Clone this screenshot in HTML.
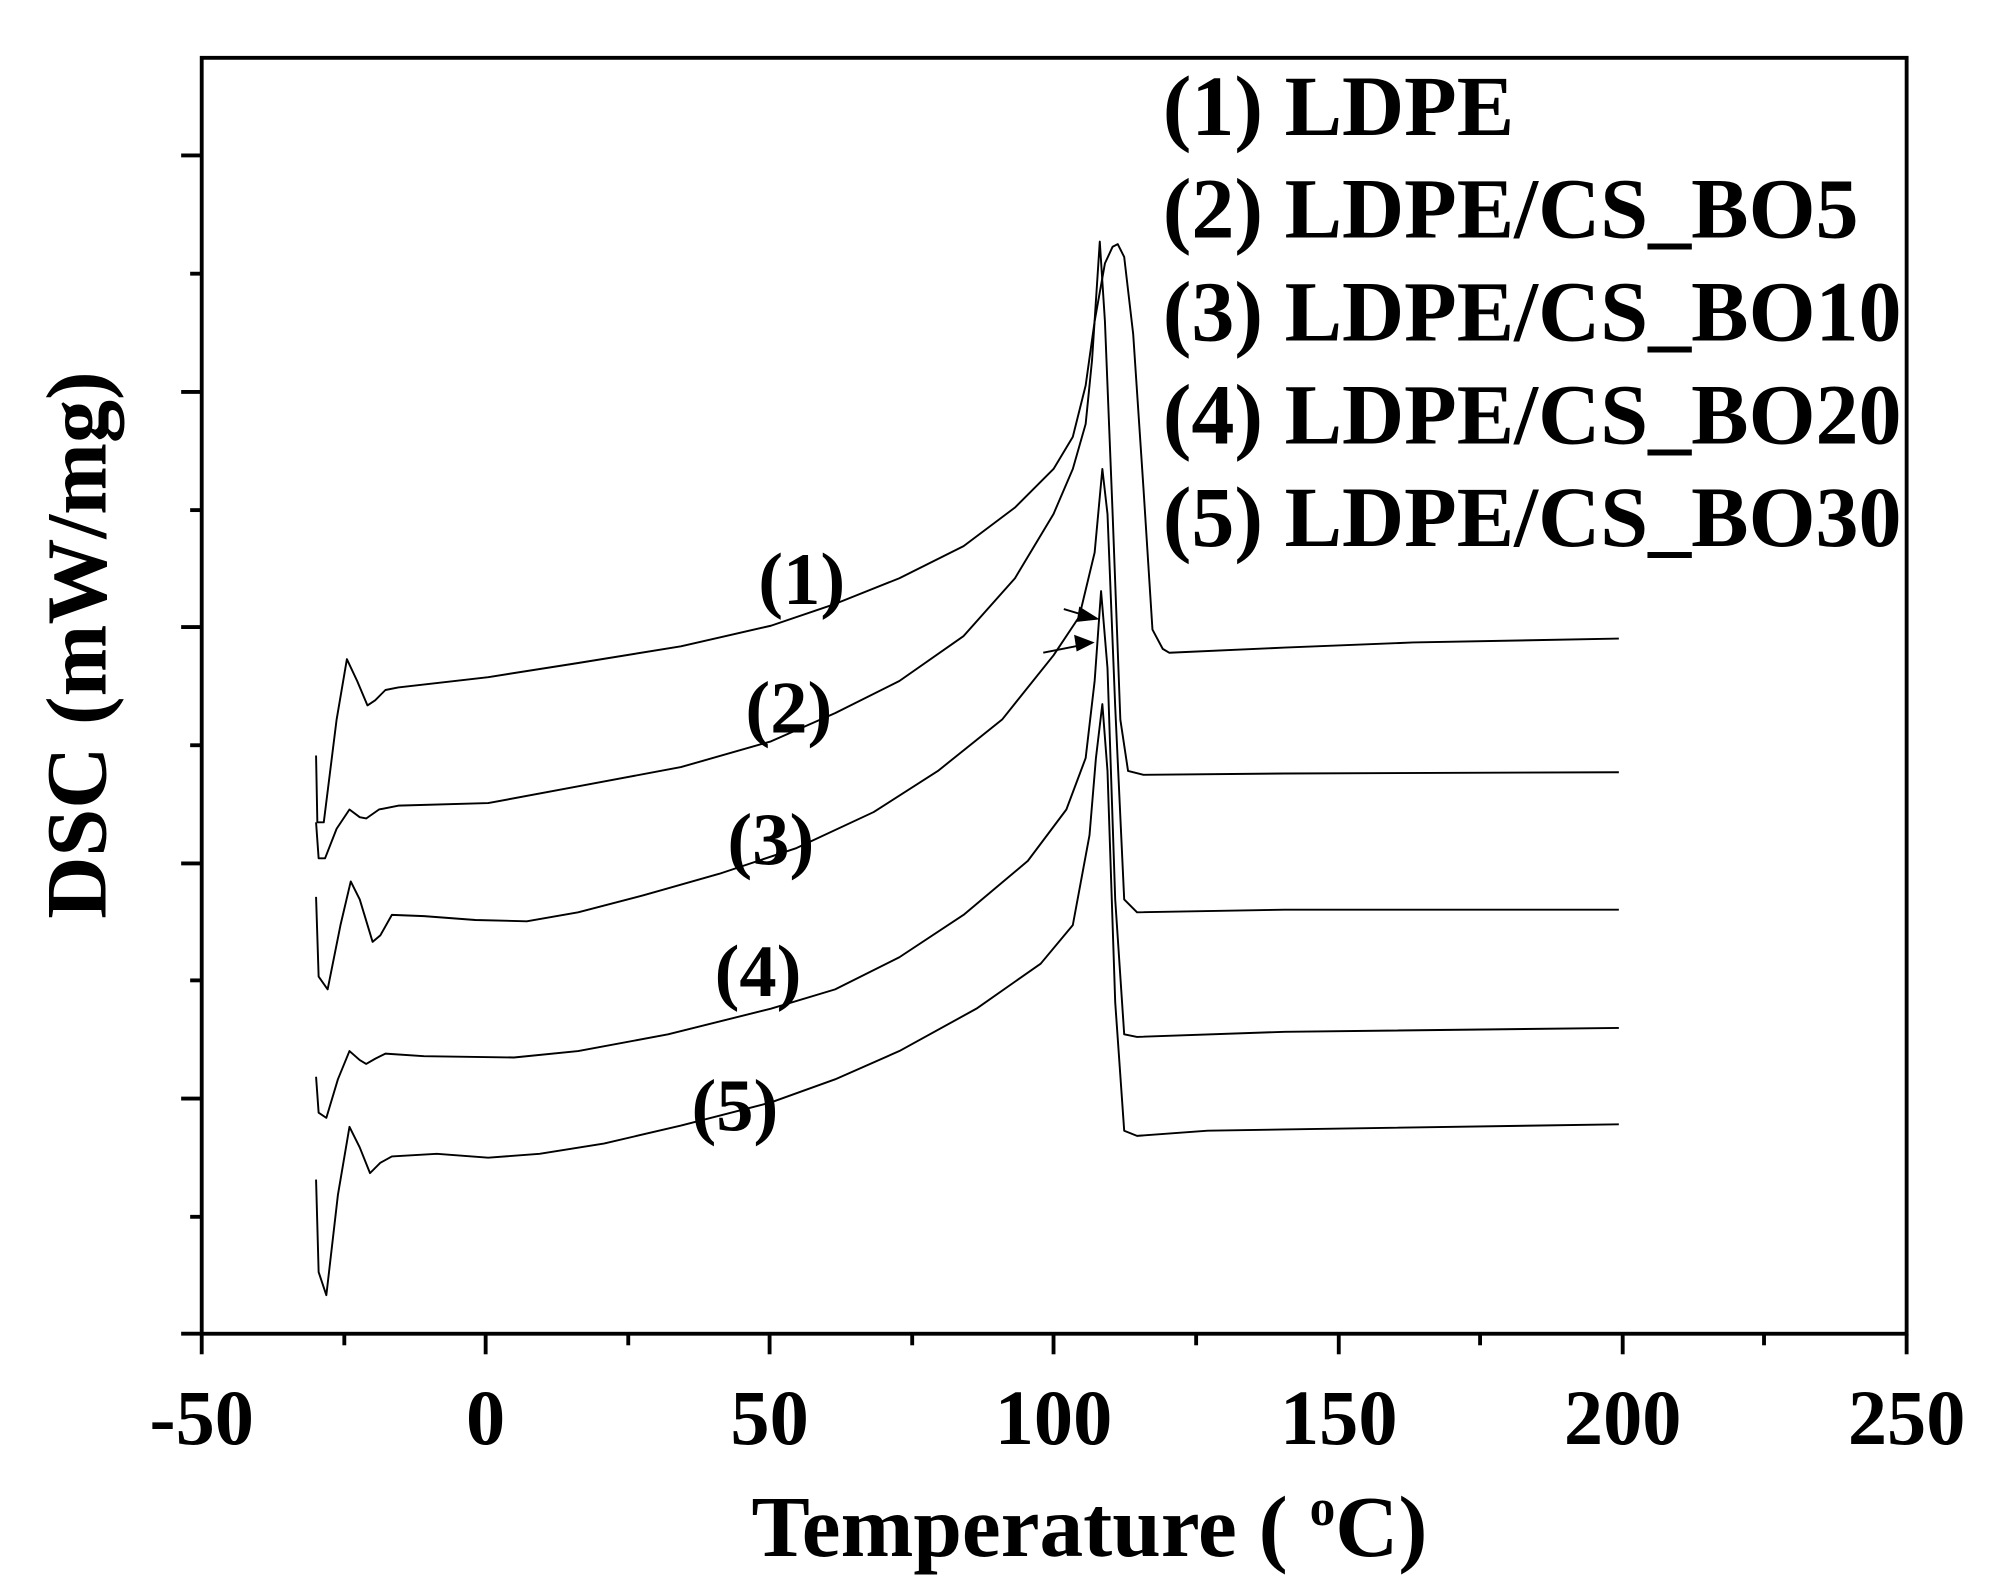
<!DOCTYPE html>
<html><head><meta charset="utf-8"><style>
html,body{margin:0;padding:0;background:#fff;}
svg{display:block;}
text{font-family:"Liberation Serif",serif;font-weight:bold;fill:#000;}
</style></head><body>
<svg width="1994" height="1592" viewBox="0 0 1552 1239" preserveAspectRatio="none" xmlns="http://www.w3.org/2000/svg">
<rect x="157" y="45" width="1327" height="993" fill="none" stroke="#000" stroke-width="3"/>
<g stroke="#000" stroke-width="3">
<line x1="141" y1="1038" x2="157" y2="1038"/>
<line x1="157" y1="1038" x2="157" y2="1054"/><line x1="378" y1="1038" x2="378" y2="1054"/><line x1="599" y1="1038" x2="599" y2="1054"/><line x1="820" y1="1038" x2="820" y2="1054"/><line x1="1042" y1="1038" x2="1042" y2="1054"/><line x1="1263" y1="1038" x2="1263" y2="1054"/><line x1="1484" y1="1038" x2="1484" y2="1054"/>
<line x1="268" y1="1038" x2="268" y2="1047"/><line x1="489" y1="1038" x2="489" y2="1047"/><line x1="710" y1="1038" x2="710" y2="1047"/><line x1="931" y1="1038" x2="931" y2="1047"/><line x1="1152" y1="1038" x2="1152" y2="1047"/><line x1="1373" y1="1038" x2="1373" y2="1047"/>
<line x1="141" y1="121" x2="157" y2="121"/><line x1="141" y1="305" x2="157" y2="305"/><line x1="141" y1="488" x2="157" y2="488"/><line x1="141" y1="672" x2="157" y2="672"/><line x1="141" y1="855" x2="157" y2="855"/>
<line x1="148" y1="213" x2="157" y2="213"/><line x1="148" y1="397" x2="157" y2="397"/><line x1="148" y1="580" x2="157" y2="580"/><line x1="148" y1="763" x2="157" y2="763"/><line x1="148" y1="947" x2="157" y2="947"/>
</g>
<g font-size="61" text-anchor="middle">
<text x="157" y="1124">-50</text><text x="378" y="1124">0</text><text x="599" y="1124">50</text><text x="820" y="1124">100</text><text x="1042" y="1124">150</text><text x="1263" y="1124">200</text><text x="1484" y="1124">250</text>
</g>
<text x="848" y="1211" font-size="68" text-anchor="middle">Temperature ( <tspan font-size="40" dy="-24">o</tspan><tspan dy="24">C)</tspan></text>
<text transform="translate(82,502) rotate(-90)" font-size="67" text-anchor="middle">DSC (mW/mg)</text>
<g font-size="67">
<text x="905" y="105">(1) LDPE</text>
<text x="905" y="185">(2) LDPE/CS_BO5</text>
<text x="905" y="265">(3) LDPE/CS_BO10</text>
<text x="905" y="345">(4) LDPE/CS_BO20</text>
<text x="905" y="425">(5) LDPE/CS_BO30</text>
</g>
<g font-size="58" text-anchor="middle">
<text x="624" y="470">(1)</text><text x="614" y="570">(2)</text><text x="600" y="673">(3)</text><text x="590" y="775">(4)</text><text x="572" y="880">(5)</text>
</g>
<g fill="none" stroke="#000" stroke-width="1.5" stroke-linejoin="round">
<polyline points="246,588 247,640 252,640 262,560 270,513 278,530 286,549 292,545 300,537 310,535 380,527 450,516 530,503 600,487 650,470 700,450 750,425 790,395 820,365 835,340 845,300 852,250 860,205 866,192 870,190 875,200 882,260 890,380 897,490 905,505 910,508 1000,504 1100,500 1260,497"/>
<polyline points="246,640 248,668 253,668 262,645 272,630 280,636 285,637 295,630 310,627 380,625 450,612 530,597 600,577 650,555 700,530 750,495 790,450 820,400 835,365 845,330 850,280 856,188 860,250 866,400 872,560 878,600 890,603 1000,602 1260,601"/>
<polyline points="246,698 248,760 255,770 265,720 273,686 280,700 290,733 296,728 305,712 330,713 370,716 410,717 450,710 500,697 560,680 620,660 680,632 730,600 780,560 820,510 840,480 852,430 858,365 862,400 868,550 875,700 885,710 1000,708 1260,708"/>
<polyline points="246,838 248,866 254,870 263,840 272,818 280,825 285,828 292,824 300,820 330,822 400,823 450,818 520,805 600,785 650,770 700,745 750,712 800,670 830,630 845,590 852,530 857,460 862,520 868,700 875,805 885,807 1000,803 1260,800"/>
<polyline points="246,918 248,990 254,1008 263,930 272,877 280,893 288,913 296,905 305,900 340,898 380,901 420,898 470,890 530,876 600,858 650,840 700,818 760,785 810,750 835,720 848,650 853,590 858,548 862,600 868,780 875,880 885,884 940,880 1000,879 1260,875"/>
</g>
<g stroke="#000" stroke-width="1.5">
<line x1="828" y1="474" x2="848" y2="480"/><line x1="812" y1="508" x2="842" y2="502"/>
</g>
<polygon points="856,482 840,472 838,484" fill="#000"/>
<polygon points="852,500 836,494 838,507" fill="#000"/>
</svg>
</body></html>
